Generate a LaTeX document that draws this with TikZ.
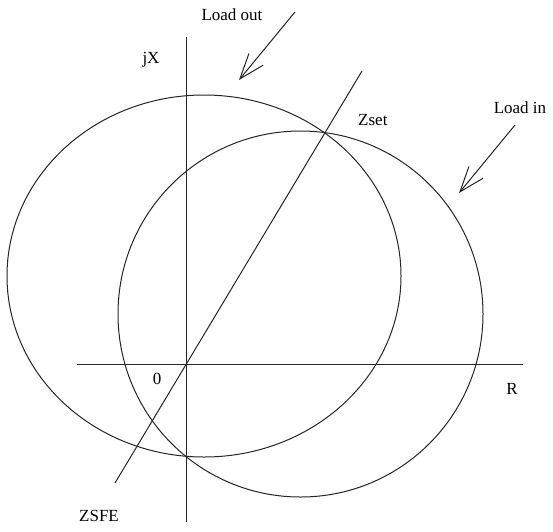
\documentclass[tikz,border=0pt]{standalone}
\usepackage{fontspec}
\setmainfont{Liberation Serif}
\usetikzlibrary{arrows.meta}
\begin{document}
\begin{tikzpicture}[x=1pt,y=-1pt,
  ln/.style={line width=1pt,black!85},
  lbl/.style={font=\fontsize{17}{19}\selectfont,inner sep=0pt},
  barb/.style={ln,-{Straight Barb[angle=40:27pt,line width=1pt]}}]
\useasboundingbox (0,0) rectangle (553,531);
\fill[white] (0,0) rectangle (553,531);
% axes
\coordinate (yt) at (186,37);
\coordinate (yb) at (186,522);
\coordinate (xl) at (77,364);
\coordinate (xr) at (523,364);
\coordinate (dl) at (115,483);
\coordinate (dt) at (362,71);
\draw[ln] (yt) -- (yb);
\draw[ln] (xl) -- (xr);
\draw[ln] (dl) -- (dt);
% circles
\draw[ln] (204,276) ellipse [x radius=197, y radius=181];
\draw[ln] (300.5,314) ellipse [x radius=182.5, y radius=183];
% arrows
\coordinate (aos) at (295,12);
\coordinate (aot) at (239,80);
\coordinate (ais) at (515,125);
\coordinate (ait) at (459,193);
\draw[barb] (aos) -- (aot);
\draw[barb] (ais) -- (ait);
% labels
\node[lbl] (lo) at (232,15) {Load out};
\node[lbl] (li) at (520,108) {Load in};
\node[lbl] (jx) at (151,60) {jX};
\node[lbl,anchor=west] (zs) at (358,120) {Zset};
\node[lbl] (zero) at (157,379) {0};
\node[lbl] (r) at (512,389) {R};
\node[lbl] (zf) at (99,516) {ZSFE};
\end{tikzpicture}
\end{document}
